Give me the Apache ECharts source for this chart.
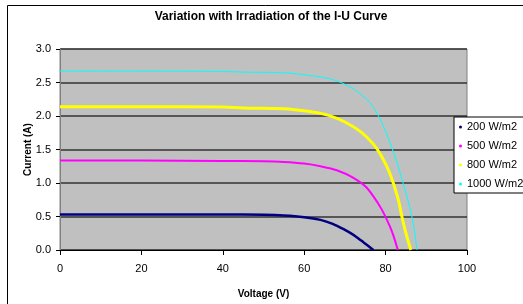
<!DOCTYPE html>
<html>
<head>
<meta charset="utf-8">
<script src="https://cdn.jsdelivr.net/npm/echarts@6/dist/echarts.min.js"></script>
<style>
  html, body { margin: 0; padding: 0; background: #fff; }
  #chart { width: 523px; height: 304px; }
</style>
</head>
<body>
<div id="chart"></div>
<script>
  /* I-U curves at four irradiation levels */
  var NAMES = ["200 W/m2", "500 W/m2", "800 W/m2", "1000 W/m2"];
  var COLORS = ["#000080", "#ff00ff", "#ffff00", "#00ffff"];
  var WIDTHS = [2.5, 2, 3, 1];

  var v200 = [0, 20, 40, 50, 55, 60, 64, 67, 70, 72, 74, 76, 77];
  var i200 = [0.53, 0.53, 0.53, 0.525, 0.515, 0.49, 0.45, 0.39, 0.30, 0.23, 0.14, 0.05, 0];

  var v500 = [0, 20, 40, 50, 55, 60, 64, 68, 72, 75, 77, 79, 81, 82, 83];
  var i500 = [1.334, 1.334, 1.33, 1.325, 1.315, 1.29, 1.25, 1.19, 1.08, 0.95, 0.80, 0.61, 0.36, 0.20, 0];

  var v800 = [0, 20, 40, 45, 55, 62, 66, 70, 74, 77, 79, 81, 83, 84, 85, 86.2];
  var i800 = [2.137, 2.137, 2.135, 2.12, 2.11, 2.06, 2.01, 1.91, 1.76, 1.58, 1.40, 1.15, 0.78, 0.50, 0.25, 0];

  var v1000 = [0, 20, 40, 45, 55, 62, 66, 69, 72, 74, 76, 78, 80, 82, 84, 86, 87, 87.7];
  var i1000 = [2.67, 2.67, 2.665, 2.655, 2.645, 2.60, 2.56, 2.50, 2.41, 2.32, 2.21, 2.03, 1.77, 1.45, 1.06, 0.62, 0.32, 0];

  var VOLTS = [v200, v500, v800, v1000];
  var AMPS = [i200, i500, i800, i1000];

  function pairs(v, a) { return v.map(function (x, k) { return [x, a[k]]; }); }

  var FONT = "Liberation Sans, Arial, sans-serif";
  var chart = echarts.init(document.getElementById("chart"));
  chart.setOption({
    animation: false,
    backgroundColor: "#fff",
    textStyle: { fontFamily: FONT },
    title: {
      text: "Variation with Irradiation of the I-U Curve",
      left: 266, top: 6, textAlign: "center",
      textStyle: { fontFamily: FONT, fontSize: 12, fontWeight: "bold", color: "#000" }
    },
    graphic: [{
      type: "rect", z: -1, silent: true,
      shape: { x: 7.5, y: 5.5, width: 540, height: 320 },
      style: { fill: "none", stroke: "#000", lineWidth: 1 }
    }],
    legend: {
      orient: "vertical", left: 454, top: 117,
      padding: [3, 30, 2, 5], itemGap: 5,
      borderColor: "#000", borderWidth: 1, backgroundColor: "#fff",
      icon: "circle", itemWidth: 3, itemHeight: 3,
      textStyle: { fontFamily: FONT, fontSize: 11, color: "#000", lineHeight: 14 },
      data: NAMES
    },
    grid: {
      left: 60, right: 56, top: 49, bottom: 52, show: true,
      backgroundColor: "#c0c0c0", borderColor: "#808080", borderWidth: 1
    },
    xAxis: {
      type: "value", min: 0, max: 100, interval: 20,
      name: "Voltage (V)", nameLocation: "middle", nameGap: 39, nameMoveOverlap: false,
      nameTextStyle: { fontFamily: FONT, fontSize: 10, fontWeight: "bold", color: "#000" },
      axisLine: { lineStyle: { color: "#000", width: 1 } },
      axisTick: { show: true, length: 5, lineStyle: { color: "#000" } },
      axisLabel: { fontFamily: FONT, fontSize: 11, color: "#000", margin: 13 },
      splitLine: { show: false }
    },
    yAxis: {
      type: "value", min: 0, max: 3, interval: 0.5,
      name: "Current (A)", nameLocation: "middle", nameGap: 27, nameMoveOverlap: false,
      nameTextStyle: { fontFamily: FONT, fontSize: 10, fontWeight: "bold", color: "#000" },
      axisLine: { show: true, lineStyle: { color: "#808080", width: 1 } },
      axisTick: { show: true, length: 4, lineStyle: { color: "#000" } },
      axisLabel: { fontFamily: FONT, fontSize: 11, color: "#000", margin: 9,
        formatter: function (v) { return v.toFixed(1); } },
      splitLine: { show: true, lineStyle: { color: "#333", width: 1.5 } }
    },
    series: NAMES.map(function (n, k) {
      return {
        name: n, type: "line", smooth: 0.35, showSymbol: false,
        itemStyle: { color: COLORS[k] },
        lineStyle: { color: COLORS[k], width: WIDTHS[k] },
        data: pairs(VOLTS[k], AMPS[k])
      };
    })
  });
</script>
</body>
</html>
